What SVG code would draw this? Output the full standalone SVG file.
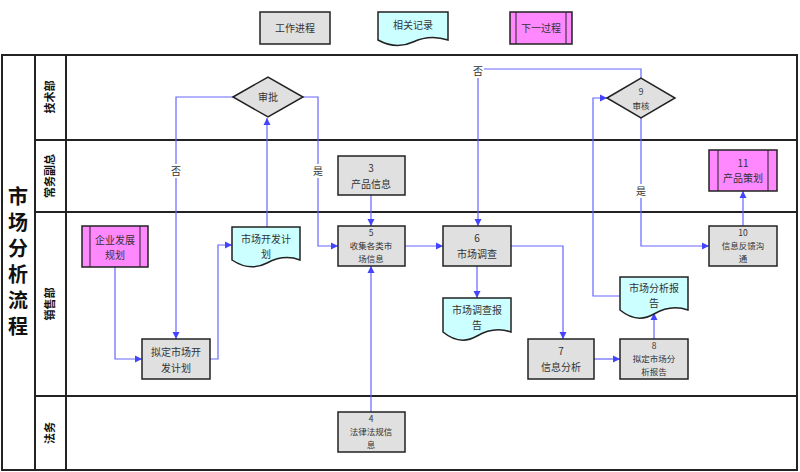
<svg xmlns="http://www.w3.org/2000/svg" width="800" height="472" viewBox="0 0 800 472">
<defs>
<style>
text{font-family:"Noto Sans CJK SC","Liberation Sans",sans-serif;font-size:10px;fill:#333;text-anchor:middle}
.s{font-size:8.5px}
.box{fill:#e0e0e0;stroke:#222;stroke-width:1.5}
.doc{fill:#ccffff;stroke:#222;stroke-width:1.5}
.sub{fill:#ff88ff;stroke:#222;stroke-width:1.5}
.ln{fill:none;stroke:#222;stroke-width:2}
.c{fill:none;stroke:#6666ff;stroke-width:1.2;marker-end:url(#a)}
.lab{font-size:11px;font-weight:bold;fill:#111}
.t{font-size:20px;font-weight:bold;fill:#111}
</style>
<marker id="a" viewBox="0 0 8 8" refX="8" refY="4" markerWidth="6" markerHeight="6" orient="auto"><path d="M0,0L8,4L0,8z" fill="#4444ff"/></marker>
</defs>
<rect width="800" height="472" fill="#fff"/>
<g id="legend">
<rect class="box" x="260" y="12" width="70" height="32"/><text x="295" y="32">工作进程</text>
<path class="doc" d="M378,12H448V40Q430,34 413,42T378,40Z"/><text x="413" y="29">相关记录</text>
<rect class="sub" x="510" y="12" width="62" height="32"/><line x1="516" y1="12" x2="516" y2="44" stroke="#222"/><line x1="566" y1="12" x2="566" y2="44" stroke="#222"/><text x="541" y="32">下一过程</text>
</g>
<g id="frame">
<rect class="ln" x="2" y="55" width="795" height="415"/>
<line class="ln" x1="35" y1="55" x2="35" y2="470"/>
<line class="ln" x1="66" y1="55" x2="66" y2="470"/>
<line class="ln" x1="35" y1="140" x2="797" y2="140"/>
<line class="ln" x1="35" y1="212" x2="797" y2="212"/>
<line class="ln" x1="35" y1="396" x2="797" y2="396"/>
<text class="t" x="18" y="204">市</text>
<text class="t" x="18" y="230">场</text>
<text class="t" x="18" y="256">分</text>
<text class="t" x="18" y="282">析</text>
<text class="t" x="18" y="308">流</text>
<text class="t" x="18" y="334">程</text>
<text class="lab" transform="translate(54,97) rotate(-90)">技术部</text>
<text class="lab" transform="translate(54,176) rotate(-90)">常务副总</text>
<text class="lab" transform="translate(54,304) rotate(-90)">销售部</text>
<text class="lab" transform="translate(54,433) rotate(-90)">法务</text>
</g>
<g id="connectors">
<polyline class="c" points="115,267 115,359 142,359"/>
<polyline class="c" points="210,359 218,359 218,245 232,245"/>
<polyline class="c" points="267,227 267,118"/>
<polyline class="c" points="233,97 176,97 176,339"/>
<polyline class="c" points="303,97 318,97 318,246 338,246"/>
<polyline class="c" points="371,195 371,226"/>
<polyline class="c" points="371,412 371,266"/>
<polyline class="c" points="405,246 443,246"/>
<polyline class="c" points="477,266 477,298"/>
<polyline class="c" points="511,246 563,246 563,339"/>
<polyline class="c" points="594,359 620,359"/>
<polyline class="c" points="654,339 654,313"/>
<polyline class="c" points="620,296 593,296 593,98 607,98"/>
<polyline class="c" points="641,78 641,69 478,69 478,226"/>
<polyline class="c" points="641,118 641,246 709,246"/>
<polyline class="c" points="743,226 743,191"/>
<rect x="170" y="164" width="12" height="14" fill="#fff"/><text x="176" y="175">否</text>
<rect x="312" y="164" width="12" height="14" fill="#fff"/><text x="318" y="175">是</text>
<rect x="472" y="64" width="12" height="14" fill="#fff"/><text x="478" y="75">否</text>
<rect x="635" y="184" width="12" height="14" fill="#fff"/><text x="641" y="195">是</text>
</g>
<g id="n_shenpi"><path class="box" d="M233,97L268,77L303,97L268,117Z"/><text x="268" y="101">审批</text></g>
<g id="n3"><rect class="box" x="338" y="156" width="67" height="39"/><text x="371" y="172">3</text><text x="371" y="188">产品信息</text></g>
<g id="n_qiye"><rect class="sub" x="82" y="226" width="66" height="41"/><line x1="90" y1="226" x2="90" y2="267" stroke="#222"/><line x1="140" y1="226" x2="140" y2="267" stroke="#222"/><text x="115" y="244">企业发展</text><text x="115" y="259">规划</text></g>
<g id="n_niding"><rect class="box" x="142" y="339" width="68" height="40"/><text x="176" y="356">拟定市场开</text><text x="176" y="372">发计划</text></g>
<g id="n_kaifa"><path class="doc" d="M232,227H300V260Q284,254 267,263T232,260Z"/><text x="266" y="243">市场开发计</text><text x="266" y="258">划</text></g>
<g id="n5"><rect class="box" x="338" y="226" width="67" height="40"/><text class="s" x="371" y="236">5</text><text class="s" x="371" y="249">收集各类市</text><text class="s" x="371" y="262">场信息</text></g>
<g id="n6"><rect class="box" x="443" y="226" width="68" height="40"/><text x="477" y="242">6</text><text x="477" y="258">市场调查</text></g>
<g id="n_diaocha"><path class="doc" d="M443,298H511V332Q494,326 477,336T443,332Z"/><text x="477" y="314">市场调查报</text><text x="477" y="329">告</text></g>
<g id="n7"><rect class="box" x="528" y="339" width="66" height="40"/><text x="561" y="355">7</text><text x="561" y="371">信息分析</text></g>
<g id="n8"><rect class="box" x="620" y="339" width="68" height="40"/><text class="s" x="654" y="349">8</text><text class="s" x="654" y="362">拟定市场分</text><text class="s" x="654" y="375">析报告</text></g>
<g id="n_fenxi"><path class="doc" d="M620,277H688V310Q671,304 654,314T620,310Z"/><text x="654" y="292">市场分析报</text><text x="654" y="307">告</text></g>
<g id="n9"><path class="box" d="M607,98L641,78L675,98L641,118Z"/><text class="s" x="641" y="95">9</text><text class="s" x="641" y="109">审核</text></g>
<g id="n10"><rect class="box" x="709" y="226" width="68" height="40"/><text class="s" x="743" y="236">10</text><text class="s" x="743" y="249">信息反馈沟</text><text class="s" x="743" y="262">通</text></g>
<g id="n11"><rect class="sub" x="709" y="150" width="68" height="41"/><line x1="718" y1="150" x2="718" y2="191" stroke="#222"/><line x1="768" y1="150" x2="768" y2="191" stroke="#222"/><text x="743" y="167">11</text><text x="743" y="182">产品策划</text></g>
<g id="n4"><rect class="box" x="338" y="412" width="67" height="40"/><text class="s" x="371" y="422">4</text><text class="s" x="371" y="435">法律法规信</text><text class="s" x="371" y="448">息</text></g>
</svg>
